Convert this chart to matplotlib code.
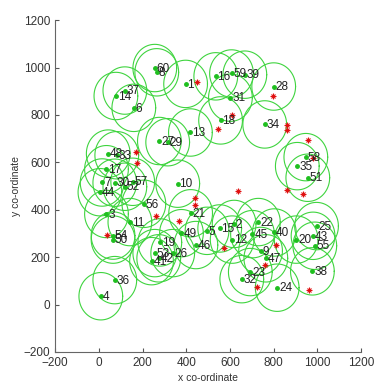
import matplotlib
matplotlib.use("Agg")
import matplotlib.pyplot as plt
import numpy as np

# NODE DATA (id, x, y)
node_id = list(range(1, 61))
node_x = [397, 619, 35, 9, 495, 160, 15, 265, 740, 361,
          142, 610, 419, 78, 553, 535, 35, 557, 279, 903,
          420, 730, 693, 816, 996, 338, 277, 800, 315, 73,
          602, 654, 82, 759, 908, 73, 119, 977, 668, 803,
          241, 274, 980, 5, 703, 444, 764, 43, 378, 65,
          956, 119, 256, 65, 988, 206, 155, 947, 607, 256]
node_y = [931, 340, 382, 35, 311, 830, 515, 980, 226, 510,
          348, 274, 726, 880, 321, 963, 571, 777, 262, 274,
          385, 348, 137, 71, 331, 217, 690, 920, 685, 514,
          873, 107, 630, 760, 584, 103, 903, 140, 970, 304,
          183, 195, 290, 474, 297, 251, 195, 637, 301, 274,
          535, 497, 217, 291, 248, 425, 518, 622, 975, 998]

# RED STAR POINTS
star_x = [451, 172, 176, 796, 611, 546, 860, 860, 957, 980,
          263, 439, 441, 367, 37, 637, 860, 935, 810, 574,
          759, 724, 963]
star_y = [941, 644, 597, 878, 800, 739, 756, 736, 696, 620,
          372, 448, 422, 352, 293, 477, 484, 467, 253, 237,
          168, 76, 61]

radius = 100
fam = ["Liberation Sans Narrow", "Liberation Sans", "DejaVu Sans"]

fig = plt.figure(figsize=(3.75, 3.88), dpi=100)
ax = fig.add_axes([0.147, 0.093, 0.816, 0.855])

# circles round every node
t = np.linspace(0, 2 * np.pi, 120)
for i in range(len(node_id)):
    ax.plot(node_x[i] + radius * np.cos(t), node_y[i] + radius * np.sin(t),
            color="#3fd43f", linewidth=0.8)

ax.plot(node_x, node_y, "o", color="#1fbf1f", markersize=2.5, linestyle="none")
for i in range(len(node_id)):
    ax.text(node_x[i] + 8, node_y[i] - 3, str(node_id[i]), fontsize=8.5,
            ha="left", va="center", color="#222222", family=fam)

ax.plot(star_x, star_y, "+", color="#e01010", markersize=5, markeredgewidth=0.8, linestyle="none")
ax.plot(star_x, star_y, "x", color="#e01010", markersize=3.5, markeredgewidth=0.8, linestyle="none")

ax.set_xlim(-200, 1200)
ax.set_ylim(-200, 1200)
ax.set_xticks(np.arange(-200, 1201, 200))
ax.set_yticks(np.arange(-200, 1201, 200))
ax.tick_params(direction="in", length=3, labelsize=8.5, color="#555555", labelcolor="#333333")
for lab in ax.get_xticklabels() + ax.get_yticklabels():
    lab.set_family(fam)
ax.spines["top"].set_visible(False)
ax.spines["right"].set_visible(False)
ax.spines["left"].set_color("#666666")
ax.spines["bottom"].set_color("#666666")

ax.set_xlabel("x co-ordinate", fontsize=7.5, color="#333333", labelpad=3, family=fam)
ax.set_ylabel("y co-ordinate", fontsize=7.5, color="#333333", labelpad=2, family=fam)

fig.savefig("out.png", dpi=100)
